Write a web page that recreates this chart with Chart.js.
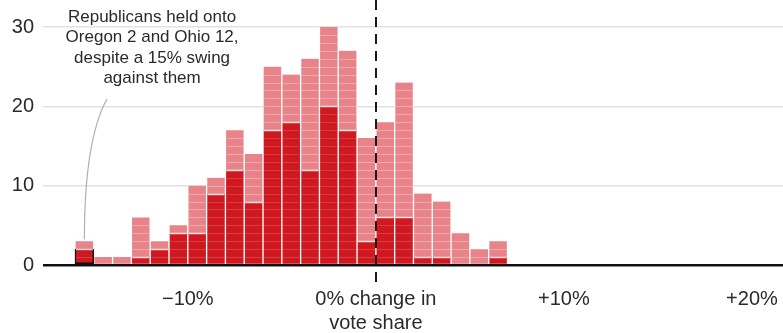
<!DOCTYPE html>
<html>
<head>
<meta charset="utf-8">
<script src="https://cdn.jsdelivr.net/npm/chart.js@4"></script>
<style>
  html, body { margin: 0; padding: 0; background: #fff; }
  #wrap { width: 783px; height: 333px; position: relative; }
</style>
</head>
<body>
<div id="wrap"><canvas id="swingChart"></canvas></div>
<script>
// left edge of each 1-point bin (change in Republican vote share, %)
const binStarts = [-16, -15, -14, -13, -12, -11, -10, -9, -8, -7, -6, -5, -4, -3, -2, -1, 0, 1, 2, 3, 4, 5, 6];
// seats Republicans held (dark red)
const heldSeats = [2, 0, 0, 1, 2, 4, 4, 9, 12, 8, 17, 18, 12, 20, 17, 3, 6, 6, 1, 1, 0, 0, 1];
// other seats stacked on top (light red)
const otherSeats = [1, 1, 1, 5, 1, 1, 6, 2, 5, 6, 8, 6, 14, 10, 10, 13, 12, 17, 8, 7, 4, 2, 2];
const yTicks = [0, 10, 20, 30];
const xTicks = [-10, 0, 10, 20];
const xTickLabels = ['\u221210%', ['0% change in', 'vote share'], '+10%', '+20%'];
const noteLines = ['Republicans held onto', 'Oregon 2 and Ohio 12,', 'despite a 15% swing', 'against them'];

const FONT = '"Liberation Sans", Arial, sans-serif';
const DARK = '#cf1820';
const LIGHT = '#e8838a';

const unitLines = {
    id: 'unitLines',
    afterDatasetsDraw(chart) {
        const ctx = chart.ctx;
        const yScale = chart.scales.y;
        ctx.save();
        chart.data.datasets.forEach((ds, i) => {
            const meta = chart.getDatasetMeta(i);
            meta.data.forEach((bar, j) => {
                const base = i === 0 ? 0 : heldSeats[j];
                const top = base + ds.data[j].y;
                const left = bar.x - bar.width / 2 + 1;
                const right = bar.x + bar.width / 2 - 1;
                for (let k = base; k < top; k++) {
                    if (k === 0) continue;
                    const y = Math.round(yScale.getPixelForValue(k)) + 0.5;
                    if (k === base && i === 1) {
                        ctx.strokeStyle = 'rgba(255,255,255,0.85)';
                        ctx.lineWidth = 1.5;
                    } else {
                        ctx.strokeStyle = i === 0 ? 'rgba(255,255,255,0.16)' : 'rgba(255,255,255,0.3)';
                        ctx.lineWidth = 1;
                    }
                    ctx.beginPath();
                    ctx.moveTo(left, y);
                    ctx.lineTo(right, y);
                    ctx.stroke();
                }
            });
        });
        ctx.restore();
    }
};

const overlay = {
    id: 'overlay',
    afterDraw(chart) {
        const ctx = chart.ctx;
        const xs = chart.scales.x;
        const ys = chart.scales.y;
        ctx.save();

        // dashed zero line
        const x0 = Math.round(xs.getPixelForValue(0));
        ctx.strokeStyle = '#1a1a1a';
        ctx.lineWidth = 2;
        ctx.setLineDash([10, 7]);
        ctx.beginPath();
        ctx.moveTo(x0, 0);
        ctx.lineTo(x0, ys.getPixelForValue(0) + 17);
        ctx.stroke();
        ctx.setLineDash([]);

        // note text
        ctx.fillStyle = '#2a2a2a';
        ctx.font = '17px ' + FONT;
        ctx.textAlign = 'center';
        ctx.textBaseline = 'middle';
        const nx = xs.getPixelForValue(-11.9);
        noteLines.forEach((line, i) => ctx.fillText(line, nx, 17 + i * 20.5));

        // leader line to the first bar
        const ex = xs.getPixelForValue(binStarts[0] + 0.5);
        const ey = ys.getPixelForValue(heldSeats[0] + otherSeats[0]) - 2;
        ctx.strokeStyle = '#b0b0b0';
        ctx.lineWidth = 1.2;
        ctx.beginPath();
        ctx.moveTo(107, 99);
        ctx.quadraticCurveTo(ex, 140, ex, ey);
        ctx.stroke();

        ctx.restore();
    }
};

new Chart(document.getElementById('swingChart'), {
    type: 'bar',
    data: {
        datasets: [
            {
                label: 'Held',
                data: binStarts.map((b, i) => ({ x: b + 0.5, y: heldSeats[i] })),
                backgroundColor: DARK,
                borderColor: ctx => ctx.dataIndex === 0 ? '#111' : 'rgba(255,255,255,0.85)',
                borderWidth: ctx => ctx.dataIndex === 0
                    ? 1.5
                    : { left: 1, right: 1, top: 0, bottom: 0 },
                borderSkipped: false,
                barPercentage: 1,
                categoryPercentage: 1
            },
            {
                label: 'Other',
                data: binStarts.map((b, i) => ({ x: b + 0.5, y: otherSeats[i] })),
                backgroundColor: LIGHT,
                borderColor: 'rgba(255,255,255,0.85)',
                borderWidth: { left: 1, right: 1, top: 0, bottom: 0 },
                borderSkipped: false,
                barPercentage: 1,
                categoryPercentage: 1
            }
        ]
    },
    options: {
        responsive: true,
        maintainAspectRatio: false,
        animation: false,
        layout: { padding: { top: 27, right: 0, left: 0, bottom: 0 } },
        plugins: {
            legend: { display: false },
            tooltip: { enabled: false }
        },
        scales: {
            x: {
                type: 'linear',
                stacked: true,
                offset: false,
                min: -17.7,
                max: 21.65,
                afterBuildTicks: s => { s.ticks = xTicks.map(v => ({ value: v })); },
                afterFit: s => { s.height = 68; s.paddingLeft = 0; s.paddingRight = 0; },
                grid: { display: false, drawTicks: false, offset: false },
                border: { display: false },
                ticks: {
                    padding: 22,
                    maxRotation: 0,
                    autoSkip: false,
                    color: '#2a2a2a',
                    font: { family: FONT, size: 20, lineHeight: 1.2 },
                    callback: (v) => xTickLabels[xTicks.indexOf(v)]
                }
            },
            y: {
                stacked: true,
                min: 0,
                max: 30,
                afterBuildTicks: s => { s.ticks = yTicks.map(v => ({ value: v })); },
                afterFit: s => { s.width = 43; },
                grid: {
                    drawTicks: false,
                    color: c => c.tick && c.tick.value === 0 ? '#111' : '#e2e2e2',
                    lineWidth: c => c.tick && c.tick.value === 0 ? 2.5 : 1.5
                },
                border: { display: false },
                ticks: {
                    padding: 9,
                    color: '#2a2a2a',
                    font: { family: FONT, size: 20 }
                }
            }
        }
    },
    plugins: [unitLines, overlay]
});
</script>
</body>
</html>
